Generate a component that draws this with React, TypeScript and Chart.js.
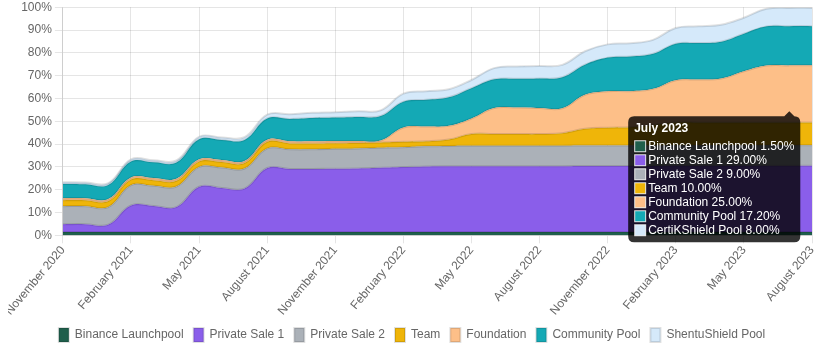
import React, { useEffect, useRef } from 'react';
import { Chart, registerables } from 'chart.js';

Chart.register(...registerables);

const months = [
  'November 2020', 'December 2020', 'January 2021', 'February 2021', 'March 2021', 'April 2021',
  'May 2021', 'June 2021', 'July 2021', 'August 2021', 'September 2021', 'October 2021',
  'November 2021', 'December 2021', 'January 2022', 'February 2022', 'March 2022', 'April 2022',
  'May 2022', 'June 2022', 'July 2022', 'August 2022', 'September 2022', 'October 2022',
  'November 2022', 'December 2022', 'January 2023', 'February 2023', 'March 2023', 'April 2023',
  'May 2023', 'June 2023', 'July 2023', 'August 2023',
];

const binanceLaunchpool = [
  1.5, 1.5, 1.5, 1.5, 1.5, 1.5, 1.5, 1.5, 1.5, 1.5, 1.5, 1.5, 1.5, 1.5, 1.5, 1.5, 1.5,
  1.5, 1.5, 1.5, 1.5, 1.5, 1.5, 1.5, 1.5, 1.5, 1.5, 1.5, 1.5, 1.5, 1.5, 1.5, 1.5, 1.5,
];
const privateSale1 = [
  3.4, 3.4, 3.2, 11.6, 11.4, 10.9, 19.8, 19.3, 19.0, 28.0, 27.6, 27.6, 27.7, 27.8, 28.1, 28.4, 28.7,
  28.8, 28.8, 28.8, 28.8, 28.8, 28.8, 28.9, 28.9, 28.9, 28.9, 29.0, 29.0, 29.0, 29.0, 29.0, 29.0, 29.0,
];
const privateSale2 = [
  7.9, 7.9, 7.7, 8.9, 8.8, 9.0, 8.7, 8.9, 8.8, 8.6, 8.6, 8.6, 8.7, 8.8, 8.8, 8.7, 8.8,
  8.9, 9.0, 9.0, 9.0, 9.0, 9.0, 9.0, 9.0, 9.0, 9.0, 9.0, 9.0, 9.0, 9.0, 9.0, 9.0, 9.0,
];
const team = [
  2.6, 2.6, 2.6, 2.5, 2.5, 2.5, 2.4, 2.4, 2.4, 2.9, 2.6, 2.6, 2.5, 2.4, 2.3, 2.4, 2.2,
  2.8, 5.1, 5.1, 5.1, 5.1, 5.5, 7.3, 7.8, 8.0, 9.0, 10.0, 10.0, 10.0, 10.0, 10.0, 10.0, 10.0,
];
const foundation = [
  0.9, 0.9, 0.9, 0.9, 0.9, 0.9, 0.9, 0.9, 0.9, 0.9, 0.9, 0.9, 0.9, 0.9, 0.9, 6.3, 6.5,
  6.0, 6.8, 11.4, 11.6, 11.4, 10.9, 14.9, 16.0, 15.8, 15.8, 18.5, 18.8, 19.2, 22.4, 24.9, 25.0, 25.0,
];
const communityPool = [
  6.2, 6.1, 6.2, 7.0, 6.9, 7.1, 8.8, 8.8, 9.2, 9.3, 9.8, 10.2, 10.3, 10.5, 10.7, 11.3, 11.7,
  12.5, 13.3, 12.6, 12.6, 12.9, 13.6, 13.2, 14.7, 15.2, 15.4, 16.0, 16.0, 16.2, 16.5, 17.2, 17.2, 17.2,
];
const shieldPool = [
  0.8, 0.8, 0.8, 0.9, 0.9, 0.9, 1.1, 1.1, 1.2, 1.7, 2.1, 2.3, 2.4, 2.5, 2.5, 3.5, 3.8,
  3.5, 3.6, 4.9, 5.4, 5.5, 5.4, 5.9, 5.8, 5.8, 6.1, 6.9, 7.3, 7.4, 7.0, 7.7, 8.0, 8.0,
];

const seriesNames = [
  'Binance Launchpool', 'Private Sale 1', 'Private Sale 2', 'Team', 'Foundation', 'Community Pool', 'ShentuShield Pool',
];
const tooltipNames = [
  'Binance Launchpool', 'Private Sale 1', 'Private Sale 2', 'Team', 'Foundation', 'Community Pool', 'CertiKShield Pool',
];
const seriesValues = [binanceLaunchpool, privateSale1, privateSale2, team, foundation, communityPool, shieldPool];
const seriesColors = ['#1f5f4c', '#8a5eea', '#abb1b8', '#efb509', '#fdbf88', '#14a9b5', '#d5e9fa'];
const tooltipIndex = 32;

export default function App() {
  const ref = useRef<HTMLCanvasElement>(null);

  useEffect(() => {
    document.body.style.margin = '0 0 0 8px';
    document.body.style.overflow = 'hidden';
    const canvas = ref.current;
    if (!canvas) return;
    const chart = new Chart(canvas, {
      type: 'line',
      data: {
        labels: months,
        datasets: seriesValues.map((vals, i) => ({
          label: seriesNames[i],
          data: vals,
          backgroundColor: seriesColors[i],
          borderColor: 'rgba(0,0,0,0.12)',
          borderWidth: 2,
          fill: i === 0 ? 'origin' : '-1',
          pointRadius: 0,
          pointHoverRadius: 0,
          tension: 0.4,
        })),
      },
      options: {
        animation: false,
        responsive: true,
        maintainAspectRatio: false,
        interaction: { mode: 'index', intersect: false },
        scales: {
          x: {
            grid: {
              color: (ctx: any) => (ctx.index % 3 === 0 ? 'rgba(0,0,0,0.1)' : 'rgba(0,0,0,0)'),
            },
            ticks: {
              autoSkip: false,
              maxRotation: 50,
              minRotation: 50,
              padding: 0,
              callback: (_v: any, i: number) => (i % 3 === 0 ? months[i] : ''),
            },
            afterFit: (scale: any) => {
              scale.paddingRight = 4;
            },
          },
          y: {
            stacked: true,
            min: 0,
            max: 100,
            ticks: { stepSize: 10, callback: (v: any) => v + '%' },
          },
        },
        plugins: {
          legend: {
            position: 'bottom',
            labels: { boxWidth: 10, boxHeight: 14 },
          },
          tooltip: {
            mode: 'index',
            intersect: false,
            position: 'average',
            xAlign: 'right',
            yAlign: 'top',
            titleFont: { weight: 'bold', lineHeight: 1 },
            bodyFont: { lineHeight: 1 },
            callbacks: {
              label: (ctx: any) => `${tooltipNames[ctx.datasetIndex]} ${Number(ctx.parsed.y).toFixed(2)}%`,
            },
          },
        },
      },
    });
    const active = chart.data.datasets.map((_d, i) => ({ datasetIndex: i, index: tooltipIndex }));
    chart.tooltip?.setActiveElements(active, { x: 787, y: 110 });
    chart.update();
    return () => chart.destroy();
  }, []);

  return (
    <div style={{ position: 'relative', width: 808, height: 355, marginTop: -3 }}>
      <canvas ref={ref} />
    </div>
  );
}
